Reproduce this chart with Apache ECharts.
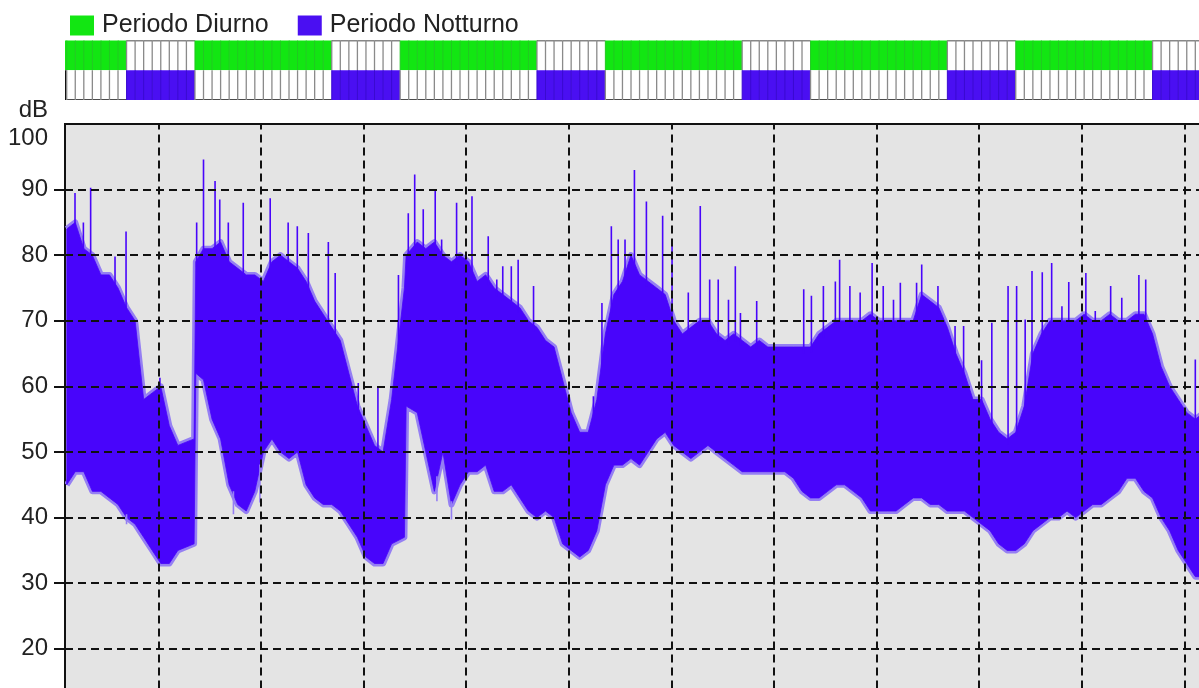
<!DOCTYPE html>
<html><head><meta charset="utf-8">
<script src="https://cdn.jsdelivr.net/npm/echarts@6/dist/echarts.min.js"></script>
<style>html,body{margin:0;padding:0;overflow:hidden;background:#fff}#c{width:1260px;height:760px}</style>
</head><body><div id="c"></div><script>
// ---- data (hours are clock hours counted from midnight of day 1) ----
const startHour = 14.8;
const endHour = 151;
const dayStartHour = 6;
const nightStartHour = 22;
const yTickValues = [10, 20, 30, 40, 50, 60, 70, 80, 90, 100];
const gridHours = [25.71, 37.71, 49.71, 61.71, 73.71, 85.71, 97.71, 109.71, 121.71, 133.71, 145.71];
const sampleHours = [15,16,17,18,19,20,21,22,23,24,25,26,27,28,29.9,30.1,31,32,33,34,35,36,37,38,39,40,41,42,43,44,
  45,46,47,48,49,50,51,52,53,54.5,54.7,56,57,58,59,60,61,62,63,64,65,66,67,68,69,70,71,72,73,74,
  75,76,77,78,79,80,81,82,83,84,85,86,87,88,89,90,91,92,93,94,95,96,97,98,99,100,101,102,103,104,
  105,106,107,108,109,110,111,112,113,114,115,116,117,118,119,120,121,122,123,124,125,126,127,128,129,130,131,132,133,134,
  135,136,137,138,139,140,141,142,143,144,145,146,147,148];
const lowEnv = [45,47,47,44,44,43,42,40,39,37,35,33,33,35,36,62,61,55,52,45,42,41,44,50,52,50,49,50,45,43,
  42,42,41,39,37,34,33,33,36,37,57,56,50,44,50,42,45,47,47,48,44,44,45,43,41,40,41,40,36,35,
  34,35,38,45,48,48,49,48,50,52,53,51,50,49,50,51,50,49,48,47,47,47,47,47,47,46,44,43,43,44,
  45,45,44,43,41,41,41,41,42,43,43,42,42,41,41,41,40,39,38,36,35,35,36,38,39,40,40,41,40,41,
  42,42,43,44,46,46,44,43,40,38,35,33,31,31];
const highEnv = [84,85,81,80,77,77,75,72,70,58,59,60,54,51,52,79,81,81,82,79,78,77,77,76,79,80,79,78,76,73,
  71,69,67,62,57,54,51,50,58,75,80,82,81,82,80,79,80,79,76,77,75,74,73,72,70,69,67,66,61,56,
  53,53,58,68,74,76,80,77,76,75,74,70,68,69,70,70,68,67,68,67,66,67,66,66,66,66,66,66,68,69,
  70,70,70,70,71,70,70,70,70,70,74,73,72,69,65,62,58,58,55,53,52,53,57,65,68,70,70,70,70,71,
  70,70,71,70,70,71,71,68,63,60,58,56,55,56];
const spikeHours = [15.97,16.95,17.8,20.65,21.94,25.9,30.2,31.0,32.35,32.9,33.9,35.65,38.8,40.9,41.97,43.26,45.6,46.4,
  49.1,51.4,53.8,54.95,55.7,56.7,58.1,58.85,60.6,62.4,64.3,66.0,67.8,77.6,78.7,80.3,81.4,82.8,84.7,85.8,89.1,
  93.2,95.7,101.2,104.9,105.4,109.2,115,116.9,122,123.2,125.1,126.1,127.9,129.1,130.2,132.2,134.2,137.1,140.4,141.2,147,
  87.7,90.2,91.2,92.4,93.8,102.1,103.5,106.6,107.8,110.5,111.7,112.5,114.4,65.3,67.0,69.6,76.6,79.5,
  118.9,119.9,127.1,131.4,135.3,138.4,142.3];
const spikeValues = [89.5,85,90.3,79.8,83.6,61.3,85,94.6,91.3,88.5,85,88,88.7,85,84.4,83.4,82,77.3,
  60.5,60,77,86.4,92.3,87,90,82.4,88,89,82.9,78.3,79.3,72.7,84.4,82.4,93,88.2,86,82.4,87.5,
  78.3,73,74.8,76,79.3,78.8,78.6,75.3,64,69.7,75.3,75.3,77.6,77.4,78.8,75.9,77.3,75.3,77,76.3,64.1,
  74.3,76.3,76.3,73.2,71.2,73.8,75.3,75.3,74.3,75.3,73.2,75.8,75.8,76.3,78.3,75.3,58.5,82.4,
  69.2,69.2,70.2,72.2,71.5,73.5,66.1];
const dipHours = [22.0, 34.5, 37.6, 58.3, 60.0];
const dipValues = [39, 40.5, 42.3, 42.5, 39.7];
const legendNames = ['Periodo Diurno', 'Periodo Notturno'];

// ---- styles ----
const FONT = 'Liberation Sans, Arial, sans-serif';
const GREEN = '#12e612', PURPLE = '#4a0ff2', LINE = '#4805fb', HALO = '#957ff3';
const PX_PER_HOUR = 8.55;
const plotWidth = (endHour - startHour) * PX_PER_HOUR;

function isNight(h) { const m = ((h % 24) + 24) % 24; return m >= nightStartHour || m < dayStartHour; }
function bandAt(arr, t) {
  if (t <= sampleHours[0]) return arr[0];
  for (let i = 0; i < sampleHours.length - 1; i++) {
    const a = sampleHours[i], b = sampleHours[i + 1];
    if (t >= a && t <= b) return arr[i] + (arr[i + 1] - arr[i]) * (t - a) / (b - a);
  }
  return arr[arr.length - 1];
}
const cellHours = [];
for (let h = Math.floor(startHour); h < endHour; h++) cellHours.push([h]);

function cellRenderer(isDayRow) {
  return function (params, api) {
    const h = api.value(0);
    const p0 = api.coord([h, isDayRow ? 2 : 1]);
    const p1 = api.coord([h + 1, isDayRow ? 1 : 0]);
    const x0 = p0[0], x1 = p1[0], y0 = p0[1], y1 = p1[1];
    const colored = isDayRow ? !isNight(h) : isNight(h);
    const ch = [];
    if (colored) {
      ch.push({ type: 'rect', shape: { x: x0, y: y0 - (isDayRow ? 1 : 0), width: x1 - x0 + 0.5, height: y1 - y0 + 1 },
        style: { fill: isDayRow ? GREEN : PURPLE } });
      ch.push({ type: 'line', shape: { x1: x0, y1: y0, x2: x0, y2: y1 },
        style: { stroke: isDayRow ? '#22c822' : '#3a0ad0', lineWidth: 1 } });
    } else {
      ch.push({ type: 'rect', shape: { x: x0, y: y0, width: x1 - x0, height: y1 - y0 }, style: { fill: '#fff' } });
      const ye = isDayRow ? y0 : y1;
      ch.push({ type: 'line', shape: { x1: x0, y1: ye, x2: x1, y2: ye }, style: { stroke: '#111', lineWidth: 1.6 } });
      ch.push({ type: 'line', shape: { x1: x0, y1: y0, x2: x0, y2: y1 }, style: { stroke: '#8a8a8a', lineWidth: 1.3 } });
      if (h <= startHour && startHour < h + 1) {
        const xs = api.coord([startHour, 0])[0];
        ch.push({ type: 'line', shape: { x1: xs + 0.8, y1: y0, x2: xs + 0.8, y2: y1 }, style: { stroke: '#111', lineWidth: 1.6 } });
      }
    }
    return { type: 'group', children: ch };
  };
}

function strokeRenderer(color, fromArr, offset) {
  return function (params, api) {
    const t = api.value(0), v = api.value(1);
    const base = bandAt(fromArr, t) + offset;
    const a = api.coord([t, base]), b = api.coord([t, v]);
    return { type: 'line', shape: { x1: a[0], y1: a[1], x2: b[0], y2: b[1] }, style: { stroke: color, lineWidth: 1.6 } };
  };
}

const chart = echarts.init(document.getElementById('c'), null, { renderer: 'canvas' });
chart.setOption({
  animation: false,
  backgroundColor: '#fff',
  textStyle: { fontFamily: FONT },
  legend: {
    left: 65, top: 8, itemWidth: 24, itemHeight: 20, itemGap: 29, icon: 'rect', selectedMode: false,
    data: legendNames,
    textStyle: { fontSize: 25, color: '#222', fontFamily: FONT, padding: [0, 0, 0, 3] }
  },
  grid: [
    { left: 65, top: 124, width: plotWidth, height: 590.4, show: true, backgroundColor: '#e4e4e4', borderColor: '#111', borderWidth: 2 },
    { left: 65, top: 40.5, width: plotWidth, height: 59.5, show: false }
  ],
  xAxis: [
    { gridIndex: 0, type: 'value', min: startHour, max: endHour, show: false },
    { gridIndex: 1, type: 'value', min: startHour, max: endHour, show: false }
  ],
  yAxis: [
    {
      gridIndex: 0, type: 'value', min: 10, max: 100, interval: 10,
      axisLine: { show: true, lineStyle: { color: '#111', width: 2 } },
      axisTick: { show: true, length: 11, lineStyle: { color: '#111', width: 2 }, customValues: yTickValues.slice(0, -1) },
      axisLabel: {
        margin: 17, fontSize: 24, color: '#222', fontFamily: FONT,
        formatter: v => (v === 100 ? '{t|100}' : String(v)),
        rich: { t: { fontSize: 24, color: '#222', fontFamily: FONT, padding: [28, 0, 0, 0] } }
      },
      splitLine: { show: false },
      name: 'dB', nameLocation: 'end', nameGap: 14,
      nameTextStyle: { fontSize: 24, color: '#222', fontFamily: FONT, align: 'right', verticalAlign: 'middle', padding: [0, 17, 0, 0] }
    },
    { gridIndex: 1, type: 'value', min: 0, max: 2, show: false }
  ],
  series: [
    {
      name: 'band', type: 'custom', xAxisIndex: 0, yAxisIndex: 0, silent: true, z: 2, clip: true,
      data: [[sampleHours[0], lowEnv[0]]],
      renderItem: function (params, api) {
        const lowPts = sampleHours.map((t, i) => api.coord([t, lowEnv[i]]));
        const highPts = sampleHours.map((t, i) => api.coord([t, highEnv[i]]));
        const poly = lowPts.concat(highPts.slice().reverse());
        return {
          type: 'group', children: [
            { type: 'polyline', shape: { points: highPts }, style: { stroke: HALO, lineWidth: 6, fill: null, lineJoin: 'round' } },
            { type: 'polyline', shape: { points: lowPts }, style: { stroke: HALO, lineWidth: 6, fill: null, lineJoin: 'round' } },
            { type: 'polygon', shape: { points: poly }, style: { fill: LINE, stroke: LINE, lineWidth: 0.8 } }
          ]
        };
      }
    },
    {
      name: 'spikes', type: 'custom', xAxisIndex: 0, yAxisIndex: 0, silent: true, z: 3, clip: true,
      data: spikeHours.map((t, i) => [t, spikeValues[i]]),
      renderItem: strokeRenderer(LINE, highEnv, -1)
    },
    {
      name: 'dips', type: 'custom', xAxisIndex: 0, yAxisIndex: 0, silent: true, z: 3, clip: true,
      data: dipHours.map((t, i) => [t, dipValues[i]]),
      renderItem: strokeRenderer(HALO, lowEnv, 0.5)
    },
    {
      name: 'grid lines', type: 'line', xAxisIndex: 0, yAxisIndex: 0, data: [], z: 5, silent: true,
      markLine: {
        silent: true, symbol: ['none', 'none'], label: { show: false }, animation: false,
        lineStyle: { color: '#111', width: 2, type: [8, 5], opacity: 1 },
        emphasis: { disabled: true },
        data: gridHours.map(h => ({ xAxis: h })).concat(yTickValues.slice(0, -1).map(v => ({ yAxis: v })))
      }
    },
    {
      name: legendNames[0], type: 'custom', xAxisIndex: 1, yAxisIndex: 1, clip: true, silent: true,
      itemStyle: { color: GREEN }, data: cellHours, renderItem: cellRenderer(true)
    },
    {
      name: legendNames[1], type: 'custom', xAxisIndex: 1, yAxisIndex: 1, clip: true, silent: true,
      itemStyle: { color: PURPLE }, data: cellHours, renderItem: cellRenderer(false)
    }
  ]
});
</script></body></html>
